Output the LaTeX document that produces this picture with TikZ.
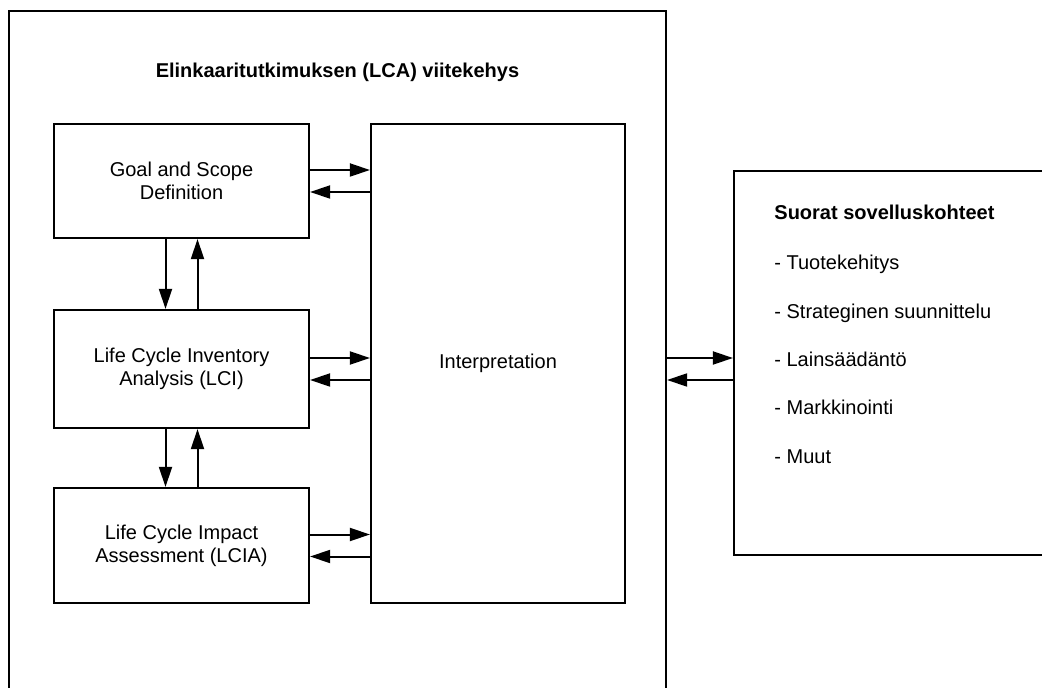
\documentclass[tikz,border=0pt]{standalone}
\usepackage{fontspec}
\setmainfont{Liberation Sans}
\usetikzlibrary{arrows.meta, positioning}

\begin{document}
\begin{tikzpicture}[x=0.5pt,y=-0.5pt,
    box/.style={rectangle,draw,line width=1.1pt,align=center,font=\fontsize{10}{11.5}\selectfont},
    arr/.style={-{Triangle[length=10pt,width=6.5pt]},line width=1pt},
    item/.style={anchor=base west,inner sep=0pt,font=\fontsize{10}{12}\selectfont}]
    \clip (0,0) rectangle (1042,688);

    % Kehys
    \node[box,minimum width=328.5pt,minimum height=354.5pt] (frame) at (337.5,365.5) {};
    \node[font=\bfseries\fontsize{10}{12}\selectfont] (title) at (337.5,72) {Elinkaaritutkimuksen (LCA) viitekehys};

    % Vaiheet
    \node[box,minimum width=127.5pt,minimum height=57pt] (goal) at (181.5,181) {Goal and Scope\\Definition};
    \node[box,minimum width=127.5pt,minimum height=59pt] (lci) at (181.5,369) {Life Cycle Inventory\\Analysis (LCI)};
    \node[box,minimum width=127.5pt,minimum height=57.5pt] (lcia) at (181.5,545.5) {Life Cycle Impact\\Assessment (LCIA)};
    \node[box,minimum width=127pt,minimum height=239.5pt] (interp) at (498,363.5) {Interpretation};

    % Nuolet vaiheiden valilla
    \draw[arr] ([xshift=-8pt]goal.south) -- ([xshift=-8pt]lci.north);
    \draw[arr] ([xshift=8pt]lci.north) -- ([xshift=8pt]goal.south);
    \draw[arr] ([xshift=-8pt]lci.south) -- ([xshift=-8pt]lcia.north);
    \draw[arr] ([xshift=8pt]lcia.north) -- ([xshift=8pt]lci.south);

    % Nuolet tulkintaan
    \draw[arr] ([yshift=5.5pt]goal.east) -- ([yshift=5.5pt]goal.east -| interp.west);
    \draw[arr] ([yshift=-5.5pt]goal.east -| interp.west) -- ([yshift=-5.5pt]goal.east);
    \draw[arr] ([yshift=5.5pt]lci.east) -- ([yshift=5.5pt]lci.east -| interp.west);
    \draw[arr] ([yshift=-5.5pt]lci.east -| interp.west) -- ([yshift=-5.5pt]lci.east);
    \draw[arr] ([yshift=5.5pt]lcia.east) -- ([yshift=5.5pt]lcia.east -| interp.west);
    \draw[arr] ([yshift=-5.5pt]lcia.east -| interp.west) -- ([yshift=-5.5pt]lcia.east);

    % Sovelluskohteet
    \node[box,minimum width=163pt,minimum height=192pt] (apps) at (897,363) {};
    \node[item,font=\bfseries\fontsize{10}{12}\selectfont] (appstitle) at (774,220) {Suorat sovelluskohteet};
    \node[item] (app1) at (774,270) {- Tuotekehitys};
    \node[item] (app2) at (774,319) {- Strateginen suunnittelu};
    \node[item] (app3) at (774,367) {- Lainsäädäntö};
    \node[item] (app4) at (774,415) {- Markkinointi};
    \node[item] (app5) at (774,464) {- Muut};

    \draw[arr] ([yshift=5.5pt]frame.east |- lci.east) -- ([yshift=5.5pt]apps.west |- lci.east);
    \draw[arr] ([yshift=-5.5pt]apps.west |- lci.east) -- ([yshift=-5.5pt]frame.east |- lci.east);
\end{tikzpicture}
\end{document}
